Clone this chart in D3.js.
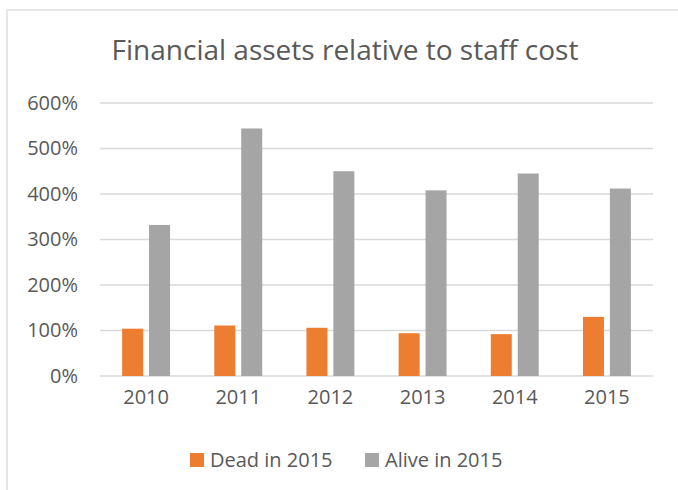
<!DOCTYPE html>
<meta charset="utf-8">
<style>
  html, body { margin: 0; padding: 0; background: #fff; }
  svg { display: block; }
  text { font-family: "Open Sans", sans-serif; fill: #595959; }
  .grid line { stroke: #d9d9d9; stroke-width: 1.3px; }
</style>
<svg id="chart" width="678" height="490"></svg>
<script src="https://cdnjs.cloudflare.com/ajax/libs/d3/7.8.5/d3.min.js"></script>
<script>
  // data
  const years = ["2010", "2011", "2012", "2013", "2014", "2015"];
  const seriesNames = ["Dead in 2015", "Alive in 2015"];
  const dead = [1.04, 1.11, 1.06, 0.94, 0.92, 1.30];
  const alive = [3.32, 5.44, 4.50, 4.08, 4.45, 4.12];
  const yTicks = [0, 1, 2, 3, 4, 5, 6];
  const colors = ["#ED7D31", "#A5A5A5"];

  const svg = d3.select("#chart");
  const plotLeft = 100, plotRight = 653, plotTop = 103, plotBottom = 376;

  // outer chart border (only top and left edges fall inside the shot)
  svg.append("rect")
    .attr("x", 7).attr("y", 10)
    .attr("width", 700).attr("height", 500)
    .attr("fill", "none").attr("stroke", "#d9d9d9").attr("stroke-width", 1.3);

  svg.append("text")
    .attr("x", 345).attr("y", 60)
    .attr("text-anchor", "middle")
    .style("font-size", "28px")
    .text("Financial assets relative to staff cost");

  let y = d3.scaleLinear().domain([0, 6]).range([plotBottom, plotTop]);
  let x0 = d3.scaleBand().domain(years).range([plotLeft, plotRight])
    .paddingInner(0.48).paddingOuter(0.24);
  let x1 = d3.scaleBand().domain(seriesNames).range([0, x0.bandwidth()])
    .paddingInner(0.22);

  // gridlines
  svg.append("g").attr("class", "grid")
    .selectAll("line").data(yTicks).join("line")
    .attr("x1", plotLeft).attr("x2", plotRight)
    .attr("y1", d => y(d)).attr("y2", d => y(d));

  // y labels
  let yAxis = svg.append("g")
    .attr("transform", `translate(${plotLeft - 22},0)`)
    .call(d3.axisLeft(y).tickValues(yTicks).tickSize(0).tickPadding(0)
      .tickFormat(d => d3.format(".0%")(d)));
  yAxis.select(".domain").remove();
  yAxis.selectAll("text").style("font-size", "20px").attr("fill", "#595959")
    .style("font-family", "'Open Sans', sans-serif");

  // x labels
  let xAxis = svg.append("g")
    .attr("transform", `translate(0,${plotBottom + 14})`)
    .call(d3.axisBottom(x0).tickSize(0).tickPadding(0));
  xAxis.select(".domain").remove();
  xAxis.selectAll("text").style("font-size", "20px").attr("fill", "#595959")
    .style("font-family", "'Open Sans', sans-serif");

  const rows = years.map((yr, i) => ({ year: yr, values: [dead[i], alive[i]] }));

  svg.append("g").selectAll("g").data(rows).join("g")
    .attr("transform", d => `translate(${x0(d.year)},0)`)
    .selectAll("rect").data(d => d.values.map((v, j) => ({ name: seriesNames[j], v: v, c: colors[j] })))
    .join("rect")
    .attr("x", d => x1(d.name))
    .attr("width", x1.bandwidth())
    .attr("y", d => y(d.v))
    .attr("height", d => plotBottom - y(d.v))
    .attr("fill", d => d.c);

  // legend
  const legendX = [190, 365];
  let lg = svg.append("g").selectAll("g").data(seriesNames).join("g")
    .attr("transform", (d, i) => `translate(${legendX[i]},453)`);
  lg.append("rect").attr("width", 14).attr("height", 14)
    .attr("fill", (d, i) => colors[i]);
  lg.append("text").attr("x", 20).attr("y", 14)
    .style("font-size", "20px")
    .text(d => d);
</script>
